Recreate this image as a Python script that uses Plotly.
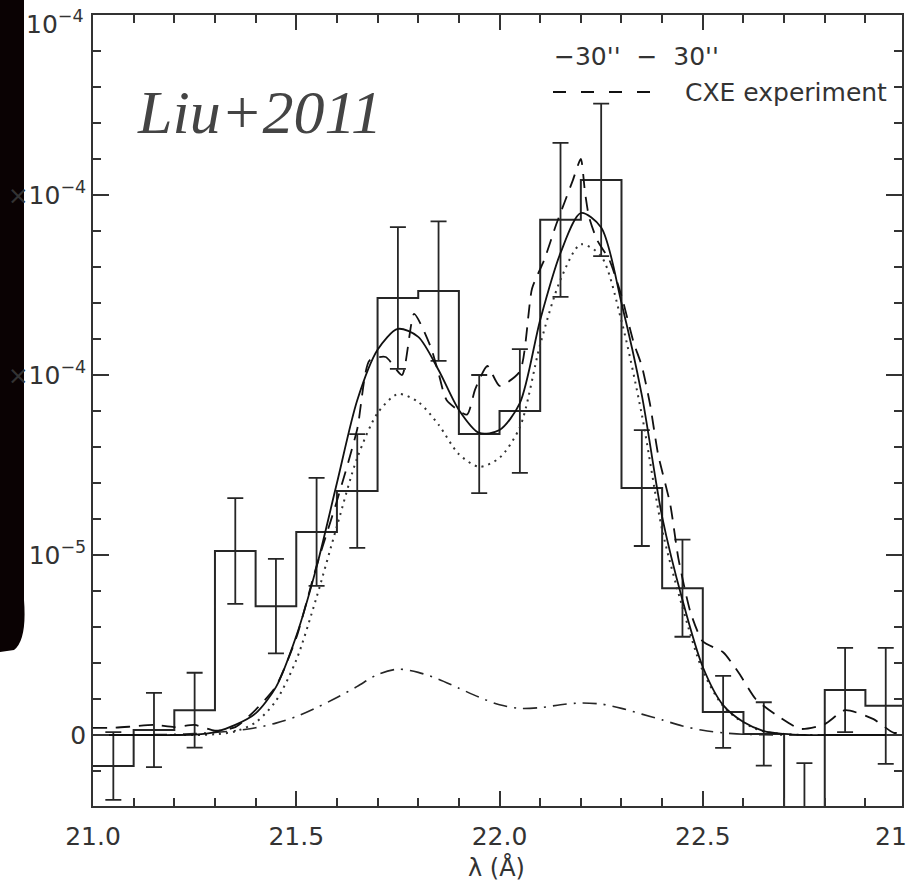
import plotly.graph_objects as go

SCALE = 1e-5  # all values below are in units of 1e-5

# Histogram (bin edges in Angstrom, bin values and 1-sigma errors, units 1e-5)
bin_edges = [21.0, 21.1, 21.2, 21.3, 21.4, 21.5, 21.6, 21.7, 21.8, 21.9, 22.0,
             22.1, 22.2, 22.3, 22.4, 22.5, 22.6, 22.7, 22.8, 22.9, 23.0]
bin_values = [-0.86, 0.14, 0.69, 5.11, 3.58, 5.64, 6.78, 12.14, 12.33, 8.36,
              9.00, 14.31, 15.42, 6.86, 4.08, 0.64, 0.03, -2.50, 1.25, 0.81]
bin_errors = [0.94, 1.03, 1.04, 1.47, 1.31, 1.50, 1.58, 1.97, 1.94, 1.64,
              1.72, 2.14, 2.12, 1.61, 1.35, 1.00, 0.88, 1.72, 1.17, 1.61]

# Model curves sampled every 0.05 A
model_wave = [21.00, 21.05, 21.10, 21.15, 21.20, 21.25, 21.30, 21.35, 21.40, 21.45,
              21.50, 21.55, 21.60, 21.65, 21.70, 21.75, 21.80, 21.85, 21.90, 21.95,
              22.00, 22.05, 22.10, 22.15, 22.20, 22.25, 22.30, 22.35, 22.40, 22.45,
              22.50, 22.55, 22.60, 22.65, 22.70, 22.75, 22.80, 22.85, 22.90, 22.95, 23.00]
total_model = [0, 0, 0, 0, 0, 0.01, 0.08, 0.28, 0.60, 1.33,
               2.75, 4.67, 7.00, 9.30, 10.70, 11.28, 11.06, 10.14, 9.03, 8.39,
               8.47, 9.22, 11.53, 13.39, 14.50, 14.10, 12.00, 9.44, 6.06, 3.75,
               1.89, 0.83, 0.36, 0.11, 0.03, 0, 0, 0, 0, 0, 0]
main_component = [0, 0, 0, 0, 0, 0, 0.02, 0.10, 0.35, 0.95,
                  2.08, 3.83, 5.80, 7.70, 8.94, 9.47, 9.25, 8.62, 7.80, 7.45,
                  7.70, 8.55, 10.85, 12.65, 13.63, 13.30, 11.50, 8.90, 5.70, 3.55,
                  1.78, 0.80, 0.34, 0.10, 0.03, 0, 0, 0, 0, 0, 0]
minor_component = [0, 0, 0, 0.01, 0.02, 0.04, 0.07, 0.12, 0.20, 0.33,
                   0.51, 0.76, 1.04, 1.35, 1.68, 1.83, 1.74, 1.55, 1.30, 1.05,
                   0.84, 0.74, 0.76, 0.84, 0.89, 0.86, 0.74, 0.58, 0.42, 0.25,
                   0.13, 0.06, 0.02, 0.01, 0, 0, 0, 0, 0, 0, 0]

# CXE experiment spectrum
cxe_wave = [21.00, 21.05, 21.10, 21.15, 21.20, 21.25, 21.30, 21.35, 21.40, 21.45,
            21.50, 21.55, 21.60, 21.65, 21.68, 21.72, 21.76, 21.79, 21.83, 21.85,
            21.87, 21.92, 21.94, 21.97, 22.00, 22.05, 22.08, 22.11, 22.14, 22.16,
            22.18, 22.20, 22.21, 22.22, 22.24, 22.27, 22.30, 22.33, 22.35, 22.37,
            22.39, 22.42, 22.44, 22.47, 22.50, 22.55, 22.59, 22.63, 22.68, 22.74,
            22.80, 22.85, 22.92, 22.97, 23.00]
cxe_values = [0.20, 0.20, 0.24, 0.28, 0.22, 0.28, 0.12, 0.22, 0.70, 1.35,
              2.70, 4.70, 6.50, 8.50, 10.40, 10.50, 10.00, 11.70, 10.80, 10.05,
              9.30, 8.90, 9.60, 10.25, 9.70, 10.10, 12.40, 13.20, 14.20, 14.80,
              15.40, 16.00, 15.10, 14.40, 13.75, 13.20, 12.20, 10.90, 10.25, 9.20,
              7.80, 6.40, 4.90, 3.40, 2.60, 2.30, 1.70, 1.00, 0.56, 0.17,
              0.30, 0.69, 0.44, 0.06, 0.10]

# y tick labels (left parts are hidden in the source image)
y_tickvals = [0, 5, 10, 15]
y_ticktext = ["0", "10<sup>−5</sup>", "×10<sup>−4</sup>", "×10<sup>−4</sup>"]
y_top_label = "10<sup>−4</sup>"

INK = "#262626"
AX = "#333333"
FONT = "DejaVu Sans"

def s(vals):
    return [v * SCALE for v in vals]

fig = go.Figure()

# step histogram
fig.add_trace(go.Scatter(
    x=bin_edges, y=s(bin_values + [bin_values[-1]]), mode="lines",
    line=dict(shape="hv", color=INK, width=2), showlegend=False, hoverinfo="skip"))

# error bars at bin centres
centres = [(a + b) / 2 for a, b in zip(bin_edges[:-1], bin_edges[1:])]
fig.add_trace(go.Scatter(
    x=centres, y=s(bin_values), mode="markers", marker=dict(size=0.1, color=INK),
    error_y=dict(type="data", array=s(bin_errors), visible=True, color=INK,
                 thickness=1.8, width=8),
    showlegend=False, hoverinfo="skip"))

# main component (dotted)
fig.add_trace(go.Scatter(
    x=model_wave, y=s(main_component), mode="lines",
    line=dict(color="#333333", width=2, dash="2px,5px", shape="spline", smoothing=0.8),
    showlegend=False, hoverinfo="skip"))

# minor component (dash-dot)
fig.add_trace(go.Scatter(
    x=model_wave, y=s(minor_component), mode="lines",
    line=dict(color=INK, width=1.6, dash="14px,7px,2px,7px", shape="spline", smoothing=0.8),
    showlegend=False, hoverinfo="skip"))

# total model (solid)
fig.add_trace(go.Scatter(
    x=model_wave, y=s(total_model), mode="lines",
    line=dict(color="#111111", width=1.8, shape="spline", smoothing=0.8),
    showlegend=False, hoverinfo="skip"))

# CXE experiment (dashed)
fig.add_trace(go.Scatter(
    x=cxe_wave, y=s(cxe_values), mode="lines",
    line=dict(color="#111111", width=1.8, dash="14px,9px", shape="spline", smoothing=0.6),
    showlegend=False, hoverinfo="skip"))

L, R, T, B = 93, 6, 15, 79
W, H = 908, 885
PW, PH = W - L - R, H - T - B

def px(x):
    return (x - L) / PW

def py(y):
    return (H - B - y) / PH

fig.update_layout(
    width=W, height=H,
    margin=dict(l=L, r=R, t=T, b=B, pad=0),
    paper_bgcolor="white", plot_bgcolor="white",
    showlegend=False,
    font=dict(family=FONT, color=AX, size=25),
    xaxis=dict(
        range=[21.0, 22.99], tickmode="linear", tick0=21.0, dtick=0.5, tickformat=".1f",
        ticks="inside", ticklen=15, tickwidth=1.5, tickcolor=AX,
        minor=dict(dtick=0.1, tick0=21.0, ticks="inside", ticklen=8, tickwidth=1.5, tickcolor=AX),
        showline=True, linecolor=AX, linewidth=1.5, mirror="allticks",
        showgrid=False, zeroline=False, automargin=False,
        tickfont=dict(family=FONT, size=25, color=AX), ticklabelstandoff=7,
    ),
    yaxis=dict(
        range=[-1.972 * SCALE, 20 * SCALE],
        tickmode="array", tickvals=s(y_tickvals), ticktext=y_ticktext,
        ticks="inside", ticklen=16, tickwidth=1.5, tickcolor=AX,
        minor=dict(dtick=1 * SCALE, tick0=0, ticks="inside", ticklen=8, tickwidth=1.5, tickcolor=AX),
        showline=True, linecolor=AX, linewidth=1.5, mirror="allticks",
        showgrid=False, zeroline=False, automargin=False,
        tickfont=dict(family=FONT, size=25, color=AX), ticklabelstandoff=0,
    ),
)

# dark blurred strip at the far left of the source image
fig.add_shape(type="path", xref="paper", yref="paper", layer="below",
              path=(f"M {px(0)},{py(0)} L {px(24)},{py(0)} L {px(24)},{py(600)} "
                    f"Q {px(27)},{py(640)} {px(14)},{py(650)} L {px(0)},{py(652)} Z"),
              fillcolor="#0a0203", line=dict(width=0))

NB = "\u00a0"
annotations = [
    dict(text="<i>Liu+2011</i>", x=px(135), y=py(112), xanchor="left", yanchor="middle",
         font=dict(family="Liberation Serif", size=62, color="#444444")),
    dict(text=f"−30''{NB}{NB}−{NB}{NB}30''", x=px(552), y=py(57), xanchor="left", yanchor="middle",
         font=dict(family=FONT, size=25, color=AX)),
    dict(text="CXE experiment", x=px(683), y=py(92), xanchor="left", yanchor="middle",
         font=dict(family=FONT, size=25, color=AX)),
    dict(text="λ (Å)", x=px(496), y=py(867), xanchor="center", yanchor="middle",
         font=dict(family=FONT, size=24, color=AX)),
    dict(text="21", x=px(873), y=py(836), xanchor="left", yanchor="middle",
         font=dict(family=FONT, size=25, color=AX)),
    dict(text=y_top_label, x=px(86), y=py(22), xanchor="right", yanchor="middle",
         font=dict(family=FONT, size=25, color=AX)),
]
for a in annotations:
    fig.add_annotation(xref="paper", yref="paper", showarrow=False, **a)

# legend line sample for the dashed curve
fig.add_shape(type="line", xref="paper", yref="paper", x0=px(553), x1=px(652),
              y0=py(92), y1=py(92), line=dict(color="#111111", width=1.8, dash="13px,15px"))

fig.write_html("out.html")
